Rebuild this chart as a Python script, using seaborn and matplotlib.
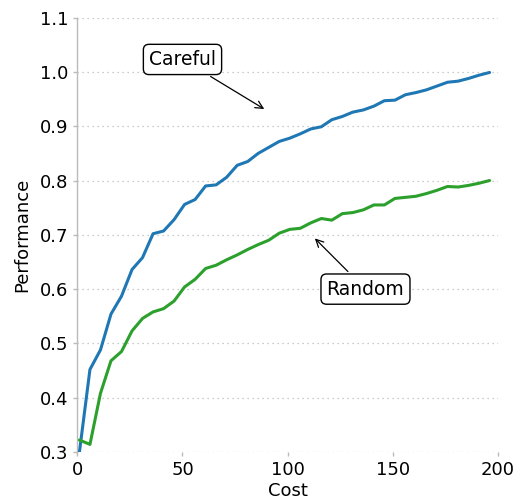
import numpy as np
import pandas as pd
import matplotlib
matplotlib.use("Agg")
import matplotlib.pyplot as plt
import seaborn as sns

# Budget spent (x) and the performance reached by each strategy
cost = list(range(1, 200, 5))

careful = [
    0.300, 0.452, 0.488, 0.554, 0.587, 0.636, 0.658, 0.702, 0.707, 0.728,
    0.756, 0.765, 0.790, 0.792, 0.806, 0.828, 0.835, 0.850, 0.861, 0.872,
    0.878, 0.886, 0.895, 0.899, 0.912, 0.918, 0.926, 0.930, 0.937, 0.947,
    0.948, 0.958, 0.962, 0.967, 0.974, 0.981, 0.983, 0.988, 0.994, 0.999,
]

random_pick = [
    0.322, 0.314, 0.408, 0.468, 0.485, 0.523, 0.546, 0.558, 0.564, 0.578,
    0.604, 0.618, 0.638, 0.644, 0.654, 0.663, 0.673, 0.682, 0.690, 0.703,
    0.710, 0.712, 0.722, 0.730, 0.727, 0.739, 0.741, 0.746, 0.755, 0.755,
    0.767, 0.769, 0.771, 0.776, 0.782, 0.789, 0.788, 0.791, 0.795, 0.800,
]

strategies = ["Careful", "Random"]
colors = ["#1f77b4", "#2ca02c"]

x_ticks = [0, 50, 100, 150, 200]
y_ticks = [0.3, 0.4, 0.5, 0.6, 0.7, 0.8, 0.9, 1.0, 1.1]

df = pd.DataFrame({
    "Cost": cost * 2,
    "Performance": careful + random_pick,
    "Strategy": [strategies[0]] * len(cost) + [strategies[1]] * len(cost),
})

sns.set_theme(style="white")
plt.rcParams["font.family"] = ["DejaVu Sans"]
plt.rcParams["text.color"] = "black"
plt.rcParams["axes.labelcolor"] = "black"

fig, ax = plt.subplots(figsize=(5.19, 5.04), dpi=100)
fig.subplots_adjust(left=0.149, right=0.9595, top=0.965, bottom=0.1032)

sns.lineplot(data=df, x="Cost", y="Performance", hue="Strategy",
             palette=dict(zip(strategies, colors)), linewidth=2.2,
             legend=False, ax=ax, zorder=3)

ax.set_xlim(0, 200)
ax.set_ylim(0.3, 1.1)
ax.set_xticks(x_ticks)
ax.set_yticks(y_ticks)
ax.set_yticklabels([f"{v:.1f}" for v in y_ticks])
ax.tick_params(axis="both", labelsize=13, colors="#bbbbbb", labelcolor="black",
               length=3, width=1, direction="out", left=True, bottom=True)
ax.set_xlabel("Cost", fontsize=13, labelpad=2, color="black")
ax.set_ylabel("Performance", fontsize=13, labelpad=6, color="black")

ax.grid(axis="y", linestyle=(0, (1, 3)), color="#bbbbbb", linewidth=0.9)
ax.grid(axis="x", visible=False)

for side in ["top", "right", "bottom"]:
    ax.spines[side].set_visible(False)
ax.spines["left"].set_color("#bbbbbb")
ax.spines["left"].set_linewidth(1)

box = dict(boxstyle="round,pad=0.3", fc="white", ec="black", lw=1)
arrow = dict(arrowstyle="->", color="black", lw=0.9)
ax.annotate("Careful", xy=(90, 0.929), xytext=(50, 1.023),
            ha="center", va="center", fontsize=13.5, color="black", bbox=box,
            arrowprops=arrow, zorder=5)
ax.annotate("Random", xy=(112, 0.697), xytext=(137, 0.600),
            ha="center", va="center", fontsize=13.5, color="black", bbox=box,
            arrowprops=arrow, zorder=5)

fig.savefig("out.png", dpi=100)
